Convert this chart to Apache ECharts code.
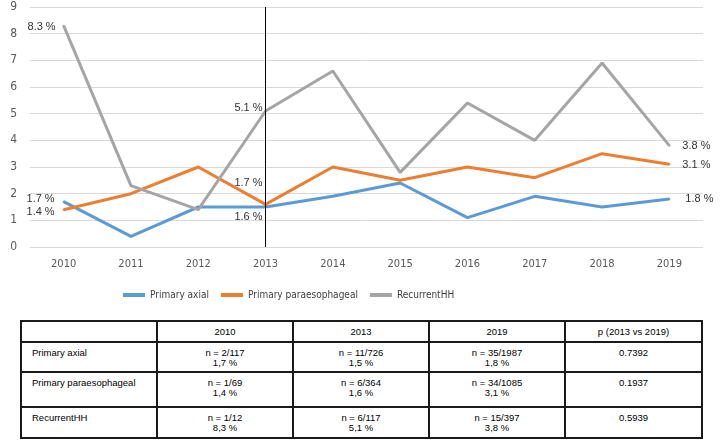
<!DOCTYPE html>
<html>
<head>
<meta charset="utf-8">
<script src="https://cdn.jsdelivr.net/npm/echarts@6/dist/echarts.min.js"></script>
<style>
  html, body { margin: 0; padding: 0; background: #fff; }
  #chart { position: absolute; left: 0; top: 0; width: 722px; height: 310px; }
  #tbl { position: absolute; left: 20px; top: 320px; width: 683px; border-collapse: collapse; table-layout: fixed;
         font-family: "Liberation Sans", Arial, sans-serif; font-size: 9.5px; color: #000; }
  #tbl td { border: 2px solid #1a1a1a; padding: 0; vertical-align: top; text-align: center; line-height: 10px; }
  #tbl tr.head td { vertical-align: middle; }
  #tbl td.rowlab { text-align: left; padding-left: 10px; }
  #tbl tr.body td { padding-top: 5px; }
</style>
</head>
<body>
<div id="chart"></div>
<table id="tbl"><colgroup><col style="width:136px"><col style="width:136px"><col style="width:136px"><col style="width:136px"><col style="width:137px"></colgroup><tbody id="tb"></tbody></table>
<script>
// ---- chart data ----
const years = ['2010','2011','2012','2013','2014','2015','2016','2017','2018','2019'];
const primaryAxial = [1.7, 0.4, 1.5, 1.5, 1.9, 2.4, 1.1, 1.9, 1.5, 1.8];
const primaryPara  = [1.4, 2.0, 3.0, 1.6, 3.0, 2.5, 3.0, 2.6, 3.5, 3.1];
const recurrentHH  = [8.3, 2.3, 1.4, 5.1, 6.6, 2.8, 5.4, 4.0, 6.9, 3.8];
const axialLabels = ['1.7 %', null, null, '1.6 %', null, null, null, null, null, '1.8 %'];
const paraLabels  = ['1.4 %', null, null, '1.7 %', null, null, null, null, null, '3.1 %'];
const recLabels   = ['8.3 %', null, null, '5.1 %', null, null, null, null, null, '3.8 %'];
const yTicks = [0, 1, 2, 3, 4, 5, 6, 7, 8, 9];
const markYear = '2013';

// ---- table data ----
const tableHeader = ['', '2010', '2013', '2019', 'p (2013 vs 2019)'];
const tableRowNames = ['Primary axial', 'Primary paraesophageal', 'RecurrentHH'];
const table2010 = [['n = 2/117', '1,7 %'], ['n = 1/69', '1,4 %'], ['n = 1/12', '8,3 %']];
const table2013 = [['n = 11/726', '1,5 %'], ['n = 6/364', '1,6 %'], ['n = 6/117', '5,1 %']];
const table2019 = [['n = 35/1987', '1,8 %'], ['n = 34/1085', '3,1 %'], ['n = 15/397', '3,8 %']];
const tableP = ['0.7392', '0.1937', '0.5939'];

// ---- label placement (style, kept in code) ----
const labelPlace = {
  axial: {0: {position: 'left', distance: 8, offset: [0, -3]}, 3: {position: 'left', distance: 2, offset: [0, 10]}, 9: {position: 'right', distance: 15, offset: [0, 0]}},
  para:  {0: {position: 'left', distance: 8, offset: [0, 2]},  3: {position: 'left', distance: 2, offset: [0, -21]}, 9: {position: 'right', distance: 12, offset: [0, 1]}},
  rec:   {0: {position: 'left', distance: 7, offset: [0, 1]},  3: {position: 'left', distance: 2, offset: [0, -3]}, 9: {position: 'right', distance: 12, offset: [0, 0]}}
};
function build(values, labels, place) {
  return values.map((v, i) => {
    if (!labels[i]) return v;
    const p = place[i];
    return { value: v, label: { show: true, formatter: labels[i], position: p.position, distance: p.distance, offset: p.offset,
      fontFamily: 'Liberation Sans, Arial, sans-serif', fontSize: 11, color: '#333' } };
  });
}

const axisFont = '"DejaVu Sans Condensed", "Liberation Sans", sans-serif';
const lineBase = { type: 'line', symbol: 'circle', symbolSize: 2, showSymbol: true, lineStyle: { width: 3 }, emphasis: { disabled: true }, z: 2 };

const chart = echarts.init(document.getElementById('chart'), null, { renderer: 'canvas' });
chart.setOption({
  animation: false,
  color: ['#5B9BD5', '#ED7D31', '#A5A5A5'],
  grid: { left: 30, right: 19, top: 7, bottom: 63 },
  legend: {
    left: 118, top: 285, icon: 'rect', itemWidth: 22, itemHeight: 4, itemGap: 12,
    textStyle: { fontFamily: axisFont, fontSize: 10, color: '#404040' },
    data: ['Primary axial', 'Primary paraesophageal', 'RecurrentHH']
  },
  xAxis: {
    type: 'category', data: years, boundaryGap: true,
    axisLine: { show: false }, axisTick: { show: false },
    axisLabel: { fontFamily: axisFont, fontSize: 11, color: '#595959', margin: 12 }
  },
  yAxis: {
    type: 'value', min: yTicks[0], max: yTicks[yTicks.length - 1], interval: 1,
    axisLine: { show: false }, axisTick: { show: false },
    axisLabel: { fontFamily: axisFont, fontSize: 12, color: '#595959', margin: 13 },
    splitLine: { lineStyle: { color: '#D9D9D9', width: 1 } }
  },
  series: [
    Object.assign({}, lineBase, { name: 'Primary axial', data: build(primaryAxial, axialLabels, labelPlace.axial), itemStyle: { color: '#5B9BD5' },
      markLine: { silent: true, symbol: 'none', label: { show: false }, lineStyle: { color: '#000', width: 1, type: 'solid' }, data: [{ xAxis: markYear }] } }),
    Object.assign({}, lineBase, { name: 'Primary paraesophageal', data: build(primaryPara, paraLabels, labelPlace.para), itemStyle: { color: '#ED7D31' } }),
    Object.assign({}, lineBase, { name: 'RecurrentHH', data: build(recurrentHH, recLabels, labelPlace.rec), itemStyle: { color: '#A5A5A5' } })
  ]
});

// ---- table ----
const tb = document.getElementById('tb');
const rowHeights = [30, 35, 31];
let html = '<tr class="head" style="height:21px">' + tableHeader.map((h, i) => '<td' + (i === 0 ? ' class="rowlab"' : '') + '>' + h + '</td>').join('') + '</tr>';
tableRowNames.forEach((name, r) => {
  html += '<tr class="body" style="height:' + rowHeights[r] + 'px">';
  html += '<td class="rowlab">' + name + '</td>';
  html += '<td>' + table2010[r].join('<br>') + '</td>';
  html += '<td>' + table2013[r].join('<br>') + '</td>';
  html += '<td>' + table2019[r].join('<br>') + '</td>';
  html += '<td>' + tableP[r] + '</td>';
  html += '</tr>';
});
tb.innerHTML = html;
</script>
</body>
</html>
